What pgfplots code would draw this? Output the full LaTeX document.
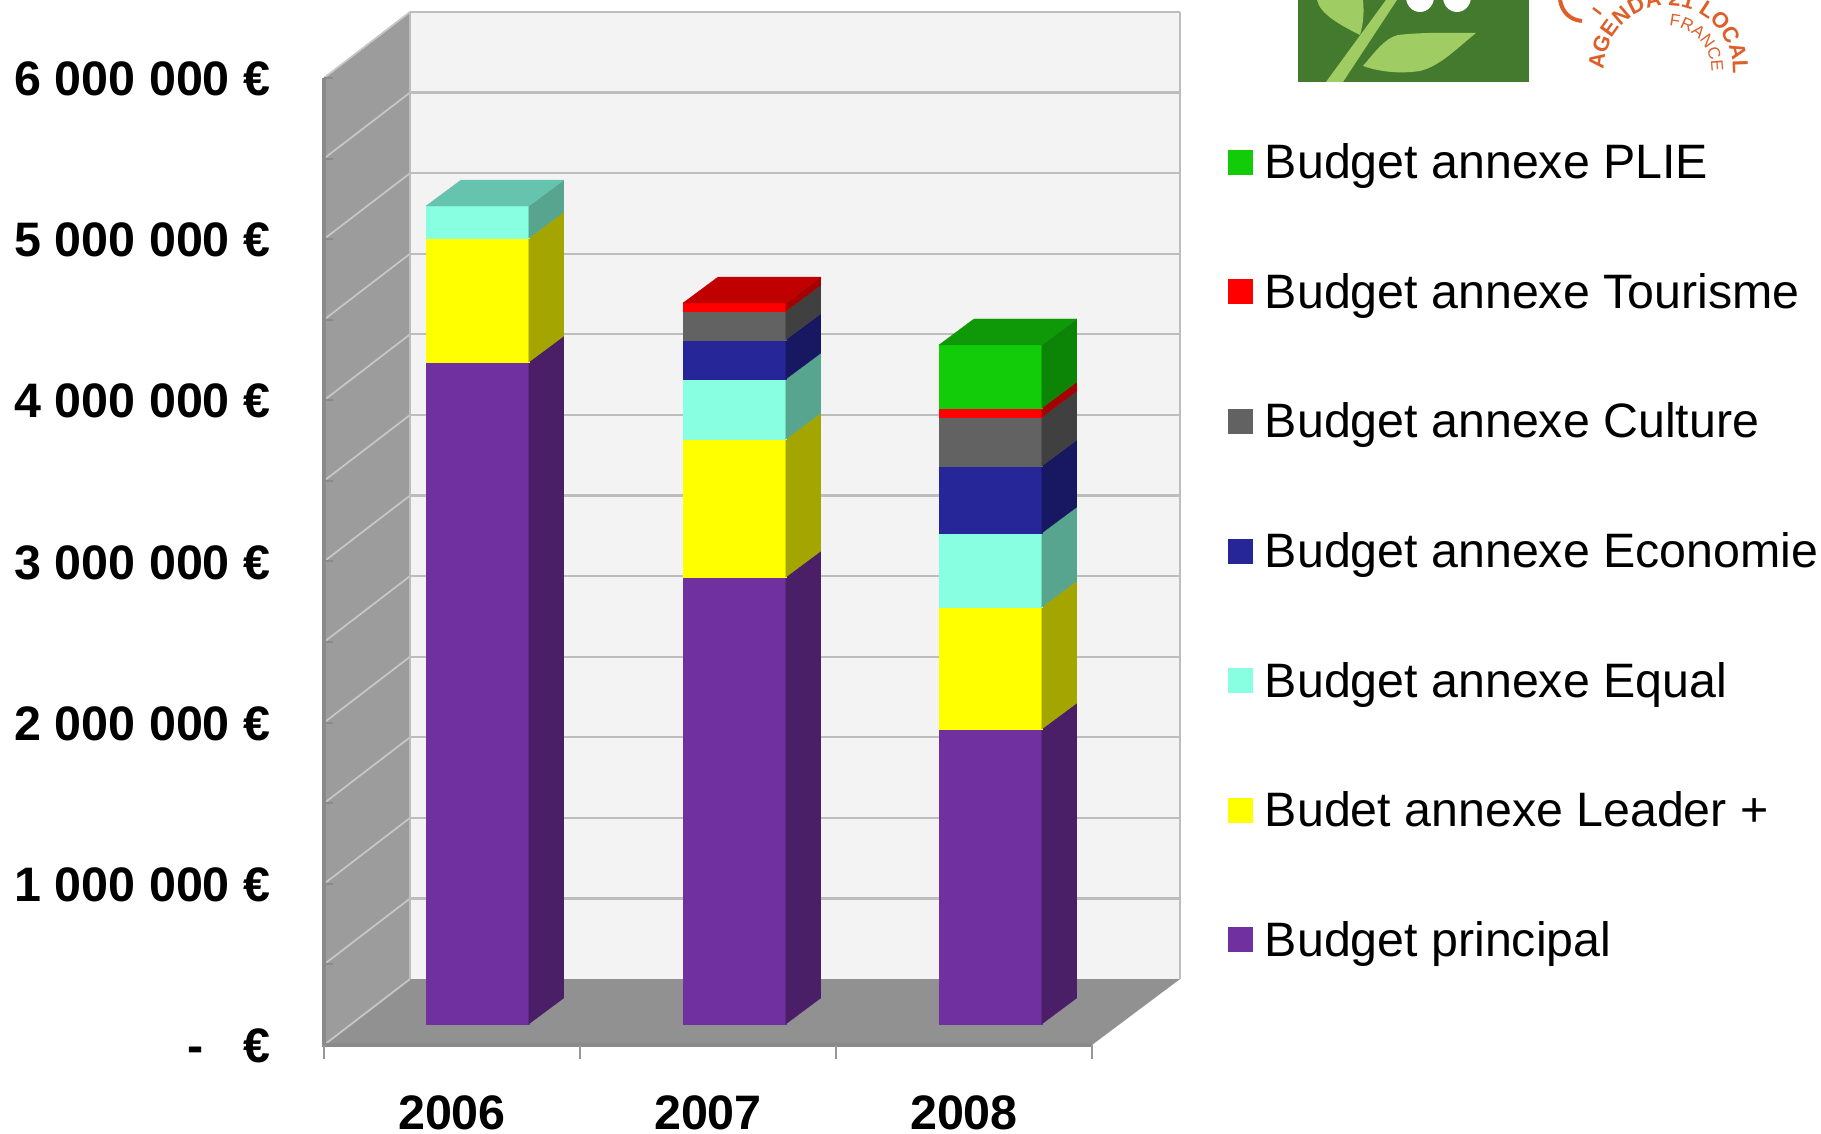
\documentclass[border=0pt]{standalone}
\usepackage{pgfplots}
\usepackage{fontspec}
\setmainfont{Liberation Sans}
\pgfplotsset{compat=1.18}
\usetikzlibrary{decorations.text}

\definecolor{wallL}{HTML}{9C9C9C}
\definecolor{wallB}{HTML}{F3F3F3}
\definecolor{floorC}{HTML}{919191}
\definecolor{gridB}{HTML}{BDBDBD}
\definecolor{gridL}{HTML}{C6C6C6}
\definecolor{edgeC}{HTML}{8A8A8A}
\definecolor{pur}{HTML}{7030A0}  \definecolor{purS}{HTML}{4A1F68}
\definecolor{yel}{HTML}{FFFF00}  \definecolor{yelS}{HTML}{A5A500}
\definecolor{cya}{HTML}{88FFE0}  \definecolor{cyaS}{HTML}{57A58E} \definecolor{cyaT}{HTML}{66C4AE}
\definecolor{blu}{HTML}{262699}  \definecolor{bluS}{HTML}{181862}
\definecolor{gre}{HTML}{626262}  \definecolor{greS}{HTML}{404040}
\definecolor{red1}{HTML}{FF0000} \definecolor{red1S}{HTML}{A50000} \definecolor{red1T}{HTML}{C00000}
\definecolor{grn}{HTML}{12CC0A}  \definecolor{grnS}{HTML}{0C8406} \definecolor{grnT}{HTML}{0F9808}
\definecolor{logoG}{HTML}{437A2E}
\definecolor{logoL}{HTML}{9FCD63}
\definecolor{logoO}{HTML}{DE5F28}

% one segment of a stacked bar: x of front left, height in M euro, colour
\newcommand{\barstart}{\gdef\cum{0.130}}
\newcommand{\seg}[3]{%
  \pgfmathsetmacro\xa{#1}%
  \pgfmathsetmacro\xb{#1+0.402}%
  \pgfmathsetmacro\xc{#1+0.402+0.1367}%
  \pgfmathsetmacro\ya{\cum}%
  \pgfmathsetmacro\yb{\cum+#2}%
  \pgfmathsetmacro\yc{\ya+0.1613}%
  \pgfmathsetmacro\yd{\yb+0.1613}%
  \edef\temp{\noexpand\addplot[forget plot,fill=#3,draw=#3,line width=0.1pt]
    coordinates {(\xa,\ya) (\xb,\ya) (\xb,\yb) (\xa,\yb)} --cycle;
    \noexpand\addplot[forget plot,fill=#3S,draw=#3S,line width=0.1pt]
    coordinates {(\xb,\ya) (\xc,\yc) (\xc,\yd) (\xb,\yb)} --cycle;}%
  \temp
  \xdef\cum{\yb}%
}
\newcommand{\captop}[2]{%
  \pgfmathsetmacro\xa{#1}%
  \pgfmathsetmacro\xb{#1+0.402}%
  \pgfmathsetmacro\xc{#1+0.1367}%
  \pgfmathsetmacro\xd{#1+0.402+0.1367}%
  \pgfmathsetmacro\yd{\cum+0.1613}%
  \edef\temp{\noexpand\addplot[forget plot,fill=#2,draw=#2,line width=0.1pt]
    coordinates {(\xa,\cum) (\xb,\cum) (\xd,\yd) (\xc,\yd)} --cycle;}%
  \temp
}
% gridline on side wall and back wall at a value in M euro
\newcommand{\gridat}[1]{%
  \pgfmathsetmacro\yb{#1+0.409}%
  \pgfmathsetmacro\yt{#1}%
  \edef\temp{\noexpand\addplot[forget plot,draw=gridL,line width=0.9pt]
    coordinates {(0,\yt) (0.336,\yb)};
    \noexpand\addplot[forget plot,draw=gridB,line width=1.1pt]
    coordinates {(0.336,\yb) (3.344,\yb)};
    \noexpand\addplot[forget plot,draw=edgeC,line width=1pt]
    coordinates {(0,\yt) (0.035,\yt)};}%
  \temp
}

\begin{document}
\begin{tikzpicture}
\useasboundingbox (0,0) rectangle (910.5bp,567bp);
\begin{axis}[
  at={(162bp,44.5bp)},anchor=south west,
  scale only axis,width=428bp,height=516.5bp,
  xmin=0,xmax=3.344,ymin=0,ymax=6.409,
  clip=false,
  axis line style={draw=none},
  major tick length=0pt,
  tick style={draw=none},
  xtick={0.5,1.5,2.5},
  xticklabels={2006,2007,2008},
  ytick={0,1,2,3,4,5,6},
  yticklabels={-\hspace{20pt}€,1 000 000 €,2 000 000 €,3 000 000 €,4 000 000 €,5 000 000 €,6 000 000 €},
  tick label style={font=\fontsize{24.3}{29}\selectfont\bfseries},
  xticklabel style={yshift=-22bp},
  yticklabel style={xshift=-23.3bp,yshift=-0.5bp,anchor=east},
  legend style={
    at={(axis description cs:1.056,0.8725)},anchor=north west,
    draw=none,fill=none,inner sep=0pt,outer sep=0pt,
    font=\fontsize{24.25}{29}\selectfont,
    row sep=45.8bp,
    nodes={inner sep=0pt},
  },
  legend cell align=left,
  legend image code/.code={\fill[#1,draw=none] (0bp,-6bp) rectangle (12.5bp,6.5bp);\path (18.3bp,0bp);},
]
% walls and floor
\addplot[forget plot,fill=wallB,draw=none] coordinates {(0.336,0.409) (3.344,0.409) (3.344,6.409) (0.336,6.409)} --cycle;
\addplot[forget plot,fill=wallL,draw=none] coordinates {(0,0) (0.336,0.409) (0.336,6.409) (0,6)} --cycle;
\gridat{0.5}\gridat{1}\gridat{1.5}\gridat{2}\gridat{2.5}\gridat{3}
\gridat{3.5}\gridat{4}\gridat{4.5}\gridat{5}\gridat{5.5}\gridat{6}
\addplot[forget plot,draw=gridB,line width=1.1pt] coordinates {(3.344,0.409) (3.344,6.409)};
\addplot[forget plot,draw=gridB,line width=1.1pt] coordinates {(0.336,0.409) (0.336,6.409)};
\addplot[forget plot,fill=floorC,draw=none] coordinates {(0,0) (3,0) (3.344,0.409) (0.336,0.409)} --cycle;
\addplot[forget plot,draw=gridL,line width=0.9pt] coordinates {(0,0) (0.336,0.409)};
\addplot[forget plot,draw=edgeC,line width=1.6pt] coordinates {(0,6) (0,0) (3,0)};
% x ticks
\addplot[forget plot,draw=gridB!80!black,line width=1.1pt] coordinates {(0,0) (0,-0.087)};
\addplot[forget plot,draw=gridB!80!black,line width=1.1pt] coordinates {(1,0) (1,-0.087)};
\addplot[forget plot,draw=gridB!80!black,line width=1.1pt] coordinates {(2,0) (2,-0.087)};
\addplot[forget plot,draw=gridB!80!black,line width=1.1pt] coordinates {(3,0) (3,-0.087)};

% 2006
\barstart
\seg{0.398}{4.107}{pur}
\seg{0.398}{0.769}{yel}
\seg{0.398}{0.199}{cya}
\captop{0.398}{cyaT}
% 2007
\barstart
\seg{1.402}{2.773}{pur}
\seg{1.402}{0.856}{yel}
\seg{1.402}{0.372}{cya}
\seg{1.402}{0.245}{blu}
\seg{1.402}{0.177}{gre}
\seg{1.402}{0.050}{red1}
\captop{1.402}{red1T}
% 2008
\barstart
\seg{2.402}{1.830}{pur}
\seg{2.402}{0.757}{yel}
\seg{2.402}{0.459}{cya}
\seg{2.402}{0.416}{blu}
\seg{2.402}{0.304}{gre}
\seg{2.402}{0.056}{red1}
\seg{2.402}{0.391}{grn}
\captop{2.402}{grnT}

\addlegendimage{fill=grn}   \addlegendentry{Budget annexe PLIE}
\addlegendimage{fill=red1}  \addlegendentry{Budget annexe Tourisme}
\addlegendimage{fill=gre}   \addlegendentry{Budget annexe Culture}
\addlegendimage{fill=blu}   \addlegendentry{Budget annexe Economie}
\addlegendimage{fill=cya}   \addlegendentry{Budget annexe Equal}
\addlegendimage{fill=yel}   \addlegendentry{Budet annexe Leader +}
\addlegendimage{fill=pur}   \addlegendentry{Budget principal}
\end{axis}

% logos, coordinates in reference pixels
\begin{scope}[shift={(0,567bp)},x=0.5bp,y=-0.5bp]
  \fill[logoG] (1298,0) rectangle (1529,82);
  \fill[logoL] (1317,0) .. controls (1320,14) and (1340,25) .. (1360,35) .. controls (1364,22) and (1364,10) .. (1363,0) -- cycle;
  \fill[logoL] (1326,82) -- (1386,0) -- (1397,0) -- (1343,82) -- cycle;
  \fill[logoL] (1363,66) .. controls (1375,52) and (1385,38) .. (1398,35) .. controls (1425,32) and (1450,33) .. (1476,33) .. controls (1455,50) and (1440,66) .. (1420,71) .. controls (1400,74) and (1380,72) .. (1363,66) -- cycle;
  \fill[white] (1420,-3) ellipse (14 and 15);
  \fill[white] (1457,-3) ellipse (14 and 15);
  \draw[logoO,line width=2bp] (1560,0) .. controls (1562,12) and (1570,20) .. (1582,21);
  \draw[logoO,line width=1.2bp] (1593,8) -- (1601,14);
\end{scope}
\begin{scope}[x=0.5bp,y=0.5bp]
  \path[postaction={decorate,decoration={text along path,
        text={|\fontsize{11}{13}\selectfont\bfseries\color{logoO}|AGENDA 21 LOCAL},text align={fit to path}}}]
    (1604,1064) arc[start angle=180,end angle=0,radius=64.5];
  \path[postaction={decorate,decoration={text along path,
        text={|\fontsize{8.5}{10}\selectfont\color{logoO}|FRANCE},text align={fit to path}}}]
    (1669,1108) arc[start angle=88,end angle=-2,radius=44];
\end{scope}
\end{tikzpicture}
\end{document}
